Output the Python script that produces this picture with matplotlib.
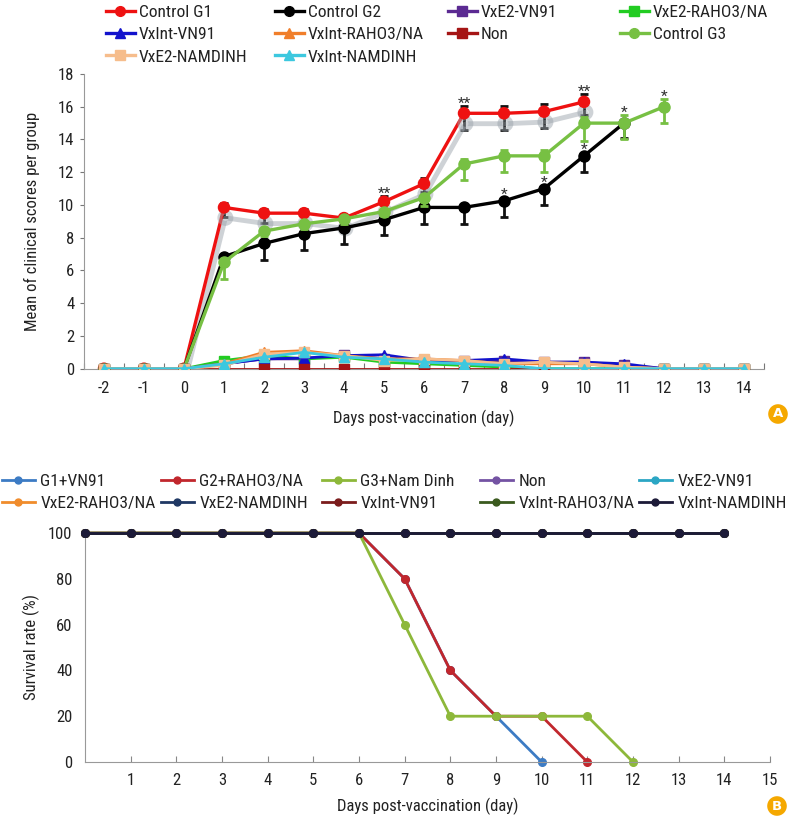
import numpy as np
import matplotlib
matplotlib.use("Agg")
import matplotlib.pyplot as plt
import matplotlib.patheffects as pe
from matplotlib.lines import Line2D
from matplotlib import font_manager

# pick a narrow sans font if available
_fl = font_manager.fontManager.ttflist
_names = {f.name for f in _fl}
_cond = {f.name for f in _fl if str(f.stretch) in ('condensed', 'semi-condensed', 'extra-condensed', '300', '400', '500')
         or 'ondensed' in f.fname or 'Narrow' in f.fname}
FAMILY = None
STRETCH = 'normal'
for cand in ['Liberation Sans Narrow', 'Arial Narrow', 'Roboto Condensed', 'Open Sans Condensed',
             'Noto Sans Condensed', 'DejaVu Sans Condensed']:
    if cand in _names:
        FAMILY = cand
        break
if FAMILY is None:
    for cand in ['Roboto', 'Noto Sans', 'Open Sans', 'DejaVu Sans']:
        if cand in _cond:
            FAMILY = cand
            STRETCH = 'condensed'
            break
if FAMILY is None:
    FAMILY = 'Roboto' if 'Roboto' in _names else 'Liberation Sans'
plt.rcParams['font.family'] = [FAMILY, 'DejaVu Sans']
plt.rcParams['font.stretch'] = STRETCH

# ---------------- Panel A data ----------------
days_a = list(range(-2, 15))
xtick_labels_a = [str(d) for d in days_a]

g1_days = list(range(-2, 11))
g1_vals = [0, 0, 0, 9.85, 9.5, 9.5, 9.2, 10.2, 11.3, 15.6, 15.6, 15.7, 16.3]
g1_err_up = [0, 0, 0, 0.25, 0.25, 0.25, 0.2, 0.35, 0.35, 0.45, 0.45, 0.45, 0.5]
g1_err_lo = [0, 0, 0, 0.6, 0.6, 0.6, 0.2, 0.5, 0.5, 1.0, 1.0, 1.0, 0.8]

g2_days = list(range(-2, 12))
g2_vals = [0, 0, 0, 6.85, 7.65, 8.25, 8.6, 9.1, 9.85, 9.85, 10.25, 11.0, 13.0, 15.0]
g2_err_up = [0] * 14
g2_err_lo = [0, 0, 0, 0.3, 1.0, 1.0, 1.0, 0.95, 1.0, 1.0, 1.0, 1.0, 1.0, 0.9]

g3_days = list(range(-2, 13))
g3_vals = [0, 0, 0, 6.5, 8.4, 8.85, 9.15, 9.6, 10.45, 12.5, 13.0, 13.0, 15.0, 15.0, 16.0]
g3_err_up = [0, 0, 0, 0, 0, 0, 0, 0, 0, 0.3, 0.35, 0.35, 0.4, 0.5, 0.5]
g3_err_lo = [0, 0, 0, 1.0, 0.3, 0.3, 0.3, 0.3, 0.5, 1.0, 1.0, 1.0, 1.1, 1.0, 1.0]

# low series, days -2..14
vxe2_vn91 = [0, 0, 0, 0.3, 0.6, 0.6, 0.85, 0.6, 0.5, 0.5, 0.5, 0.4, 0.4, 0.2, 0, 0, 0]
vxe2_raho = [0, 0, 0, 0.5, 0.8, 0.6, 0.7, 0.4, 0.3, 0.2, 0.1, 0, 0, 0, 0, 0, 0]
vxint_vn91 = [0, 0, 0, 0.3, 0.6, 0.65, 0.8, 0.85, 0.5, 0.5, 0.6, 0.4, 0.4, 0.3, 0, 0, 0]
vxint_raho = [0, 0, 0, 0.3, 1.0, 1.1, 0.8, 0.6, 0.6, 0.5, 0.3, 0.3, 0.3, 0.1, 0, 0, 0]
non_vals = [0] * 17
vxe2_namd = [0, 0, 0, 0.2, 0.9, 1.0, 0.8, 0.5, 0.6, 0.5, 0.3, 0.4, 0.3, 0.1, 0, 0, 0]
vxint_namd = [0, 0, 0, 0.3, 0.7, 1.0, 0.7, 0.6, 0.4, 0.3, 0.2, 0, 0, 0, 0, 0, 0]

stars = [("G1", 5, "**"), ("G1", 7, "**"), ("G1", 10, "**"),
         ("G2", 8, "*"), ("G2", 9, "*"), ("G2", 10, "*"),
         ("G3", 11, "*"), ("G3", 12, "*")]

# ---------------- Panel B data ----------------
days_b = list(range(0, 15))
b_g1 = [100, 100, 100, 100, 100, 100, 100, 80, 40, 20, 0]
b_g2 = [100, 100, 100, 100, 100, 100, 100, 80, 40, 20, 20, 0]
b_g3 = [100, 100, 100, 100, 100, 100, 100, 60, 20, 20, 20, 20, 0]
b_full = [100] * 15

fig = plt.figure(figsize=(7.93, 8.18), dpi=100)

# ================= Panel A =================
axA = fig.add_axes([84 / 793, 1 - 368.7 / 818, (764 - 84) / 793, (368.7 - 74) / 818])

col_g1 = '#EE1111'
col_g2 = '#000000'
col_g3 = '#77C043'

axA.plot(g1_days, g1_vals, color=col_g1, lw=2.4, marker='o', ms=8, zorder=3,
         path_effects=[pe.SimpleLineShadow(offset=(1.0, -7.5), shadow_color='#9ea6ae', alpha=0.5, linewidth=3.5),
                       pe.Normal()])
axA.errorbar(g1_days, g1_vals, yerr=[g1_err_lo, g1_err_up], fmt='none', ecolor='#111111',
             elinewidth=2, capsize=3, capthick=2, zorder=2.9)
axA.errorbar(g2_days, g2_vals, yerr=[g2_err_lo, g2_err_up], fmt='none', ecolor='#111111',
             elinewidth=2, capsize=3, capthick=2, zorder=3.4)
axA.plot(g2_days, g2_vals, color=col_g2, lw=2.4, marker='o', ms=8, zorder=3.5)
axA.errorbar(g3_days, g3_vals, yerr=[g3_err_lo, g3_err_up], fmt='none', ecolor=col_g3,
             elinewidth=2, capsize=3, capthick=2, zorder=3.9)
axA.plot(g3_days, g3_vals, color=col_g3, lw=2.4, marker='o', ms=8, zorder=4)

low_series = [
    ("VxE2-VN91", vxe2_vn91, '#5B2A92', 's'),
    ("VxE2-RAHO3/NA", vxe2_raho, '#22CC22', 's'),
    ("VxInt-VN91", vxint_vn91, '#1212CC', '^'),
    ("VxInt-RAHO3/NA", vxint_raho, '#F07E2A', '^'),
    ("Non", non_vals, '#A51515', 's'),
    ("VxE2-NAMDINH", vxe2_namd, '#F6BD8C', 's'),
    ("VxInt-NAMDINH", vxint_namd, '#3CC8DF', '^'),
]
for i, (name, vals, c, m) in enumerate(low_series):
    axA.plot(days_a, vals, color=c, lw=2, marker=m, ms=6.5, zorder=5 + i * 0.1)

series_lookup = {"G1": (g1_days, g1_vals, g1_err_up), "G2": (g2_days, g2_vals, g2_err_up),
                 "G3": (g3_days, g3_vals, g3_err_up)}
for key, d, txt in stars:
    dd, vv, ee = series_lookup[key]
    i = dd.index(d)
    top = vv[i] + ee[i] + (0.25 if ee[i] == 0 else 0)
    axA.annotate(txt, xy=(d, top), xytext=(0, -1.5), textcoords='offset points',
                 ha='center', va='baseline', fontsize=11, color='#333333')

axA.set_xlim(-2.5, 14.5)
axA.set_ylim(0, 18)
axA.set_yticks(np.arange(0, 19, 2))
axA.set_xticks(np.arange(-2.5, 14.6, 1))
axA.set_xticklabels([])
axA.set_xticks(days_a, minor=True)
axA.set_xticklabels(xtick_labels_a, minor=True)
axA.tick_params(axis='x', which='major', direction='in', length=4, color='#777777')
axA.tick_params(axis='x', which='minor', length=0, pad=9, labelsize=12, labelcolor='#222222')
axA.tick_params(axis='y', length=3, color='#777777', labelsize=12, labelcolor='#222222', pad=4)
for s in ['top', 'right']:
    axA.spines[s].set_visible(False)
for s in ['left', 'bottom']:
    axA.spines[s].set_color('#999999')
axA.set_xlabel('Days post-vaccination (day)', fontsize=12, color='#222222', labelpad=10)
axA.set_ylabel('Mean of clinical scores per group', fontsize=12, color='#222222', labelpad=13)

def mk(c, m):
    return Line2D([], [], color=c, lw=2.4, marker=m, ms=7)

legA_cols = [
    [(mk(col_g1, 'o'), 'Control G1'), (mk('#1212CC', '^'), 'VxInt-VN91'), (mk('#F6BD8C', 's'), 'VxE2-NAMDINH')],
    [(mk(col_g2, 'o'), 'Control G2'), (mk('#F07E2A', '^'), 'VxInt-RAHO3/NA'), (mk('#3CC8DF', '^'), 'VxInt-NAMDINH')],
    [(mk('#5B2A92', 's'), 'VxE2-VN91'), (mk('#A51515', 's'), 'Non')],
    [(mk('#22CC22', 's'), 'VxE2-RAHO3/NA'), (mk(col_g3, 'o'), 'Control G3')],
]
colx_A = [106, 275, 448, 620]
for xpx, items in zip(colx_A, legA_cols):
    fig.legend(handles=[h for h, _ in items], labels=[l for _, l in items],
               loc='upper left', bbox_to_anchor=(xpx / 793, 1 - 4.5 / 818), frameon=False,
               fontsize=12.5, handlelength=1.65, handletextpad=0.25, labelspacing=0.42,
               borderpad=0, borderaxespad=0, numpoints=1, labelcolor='#222222')

fig.text(778 / 793, 1 - 414 / 818, 'A', ha='center', va='center', color='white', fontsize=9.5,
         fontweight='bold', family='DejaVu Sans',
         bbox=dict(boxstyle='circle,pad=0.25', fc='#F5A800', ec='none'))

# ================= Panel B =================
axB = fig.add_axes([85 / 793, 1 - 762 / 818, (770 - 85) / 793, (762 - 533) / 818])

b_series = [
    ("G1+VN91", list(range(0, len(b_g1))), b_g1, '#3C7BC4'),
    ("G2+RAHO3/NA", list(range(0, len(b_g2))), b_g2, '#C1272D'),
    ("G3+Nam Dinh", list(range(0, len(b_g3))), b_g3, '#8DB83A'),
    ("Non", days_b, b_full, '#7453A3'),
    ("VxE2-VN91", days_b, b_full, '#2BA6C4'),
    ("VxE2-RAHO3/NA", days_b, b_full, '#F08C2C'),
    ("VxE2-NAMDINH", days_b, b_full, '#1F3864'),
    ("VxInt-VN91", days_b, b_full, '#7B1C1C'),
    ("VxInt-RAHO3/NA", days_b, b_full, '#3A5A1E'),
    ("VxInt-NAMDINH", days_b, b_full, '#1C1A38'),
]
zmap = {"G1+VN91": 2, "G2+RAHO3/NA": 2.2, "G3+Nam Dinh": 2.4}
for i, (name, dd, vv, c) in enumerate(b_series):
    axB.plot(dd, vv, color=c, lw=2, marker='o', ms=5.5, zorder=zmap.get(name, 3 + i * 0.1),
             clip_on=False)

axB.set_xlim(0, 15)
axB.set_ylim(0, 100)
axB.set_xticks(range(1, 16))
axB.set_yticks(range(0, 101, 20))
axB.tick_params(axis='x', direction='in', length=4, color='#888888', pad=8, labelsize=12,
                labelcolor='#222222')
axB.tick_params(axis='y', length=0, pad=9, labelsize=12, labelcolor='#222222')
for s in ['top', 'right']:
    axB.spines[s].set_visible(False)
for s in ['left', 'bottom']:
    axB.spines[s].set_color('#999999')
axB.set_xlabel('Days post-vaccination (day)', fontsize=12, color='#222222', labelpad=7)
axB.set_ylabel('Survival rate (%)', fontsize=12, color='#222222', labelpad=6)

legB_cols = [["G1+VN91", "VxE2-RAHO3/NA"], ["G2+RAHO3/NA", "VxE2-NAMDINH"],
             ["G3+Nam Dinh", "VxInt-VN91"], ["Non", "VxInt-RAHO3/NA"],
             ["VxE2-VN91", "VxInt-NAMDINH"]]
colx_B = [2, 161, 322, 480, 639]
for xpx, names in zip(colx_B, legB_cols):
    hs = []
    for n in names:
        c = [s[3] for s in b_series if s[0] == n][0]
        hs.append(Line2D([], [], color=c, lw=2, marker='o', ms=5))
    fig.legend(handles=hs, labels=names, loc='upper left',
               bbox_to_anchor=(xpx / 793, 1 - 473.5 / 818), frameon=False,
               fontsize=12.5, handlelength=1.9, handletextpad=0.3, labelspacing=0.4,
               borderpad=0, borderaxespad=0, numpoints=1, labelcolor='#222222')

fig.text(777 / 793, 1 - 806 / 818, 'B', ha='center', va='center', color='white', fontsize=9.5,
         fontweight='bold', family='DejaVu Sans',
         bbox=dict(boxstyle='circle,pad=0.25', fc='#F5A800', ec='none'))

fig.savefig('out.png', dpi=100)
